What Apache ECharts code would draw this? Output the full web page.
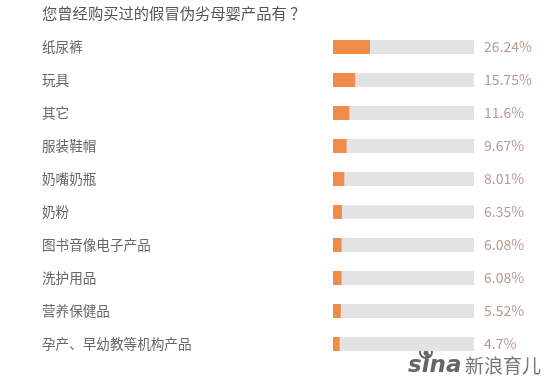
<!DOCTYPE html>
<html><head><meta charset="utf-8">
<script src="https://cdn.jsdelivr.net/npm/echarts@6/dist/echarts.min.js"></script>
<style>html,body{margin:0;padding:0;background:#fff}#c{width:550px;height:383px}</style>
</head><body><div id="c"></div>
<script>
const titleText = '您曾经购买过的假冒伪劣母婴产品有 ？';
const categories = ['纸尿裤','玩具','其它','服装鞋帽','奶嘴奶瓶','奶粉','图书音像电子产品','洗护用品','营养保健品','孕产、早幼教等机构产品'];
const values = [26.24, 15.75, 11.6, 9.67, 8.01, 6.35, 6.08, 6.08, 5.52, 4.7];
const trackMax = 100;
const chart = echarts.init(document.getElementById('c'));
chart.setOption({
  animation: false,
  backgroundColor: '#fff',
  grid: {left: 333, right: 76, top: 30.5, bottom: 22.5},
  xAxis: {type: 'value', min: 0, max: trackMax, show: false},
  yAxis: {
    type: 'category', data: categories, inverse: true,
    axisLine: {show: false}, axisTick: {show: false},
    axisLabel: {align: 'left', margin: 291, color: '#666', fontSize: 13.6, fontFamily: 'Noto Sans CJK SC'}
  },
  series: [
    {type: 'bar', data: categories.map(() => trackMax), barWidth: 14, barGap: '-100%',
     itemStyle: {color: '#e3e3e3'}, silent: true,
     label: {show: true, position: 'right', distance: 10, color: '#b99a92', fontSize: 14,
       fontFamily: 'Noto Sans CJK SC',
       formatter: p => values[p.dataIndex] + '%'}},
    {type: 'bar', data: values, barWidth: 14, barGap: '-100%', z: 3,
     itemStyle: {color: '#f08c47'}}
  ],
  graphic: [
    {type: 'text', left: 42, top: 6, style: {text: titleText, fill: '#555', fontSize: 15.3, fontFamily: 'Noto Sans CJK SC'}},
    {type: 'circle', shape: {cx: 426, cy: 352, r: 6}, style: {fill: 'none', stroke: '#666', lineWidth: 2}},
    {type: 'circle', shape: {cx: 426, cy: 353, r: 2.5}, style: {fill: '#666'}},
    {type: 'text', left: 408, top: 355, style: {text: 'sina', fill: '#666', fontSize: 23, fontStyle: 'italic', fontWeight: 'bold', fontFamily: 'DejaVu Sans'}},
    {type: 'text', left: 465, top: 356, style: {text: '新浪育儿', fill: '#777', fontSize: 19, fontFamily: 'Noto Sans CJK SC'}}
  ]
});
</script></body></html>
